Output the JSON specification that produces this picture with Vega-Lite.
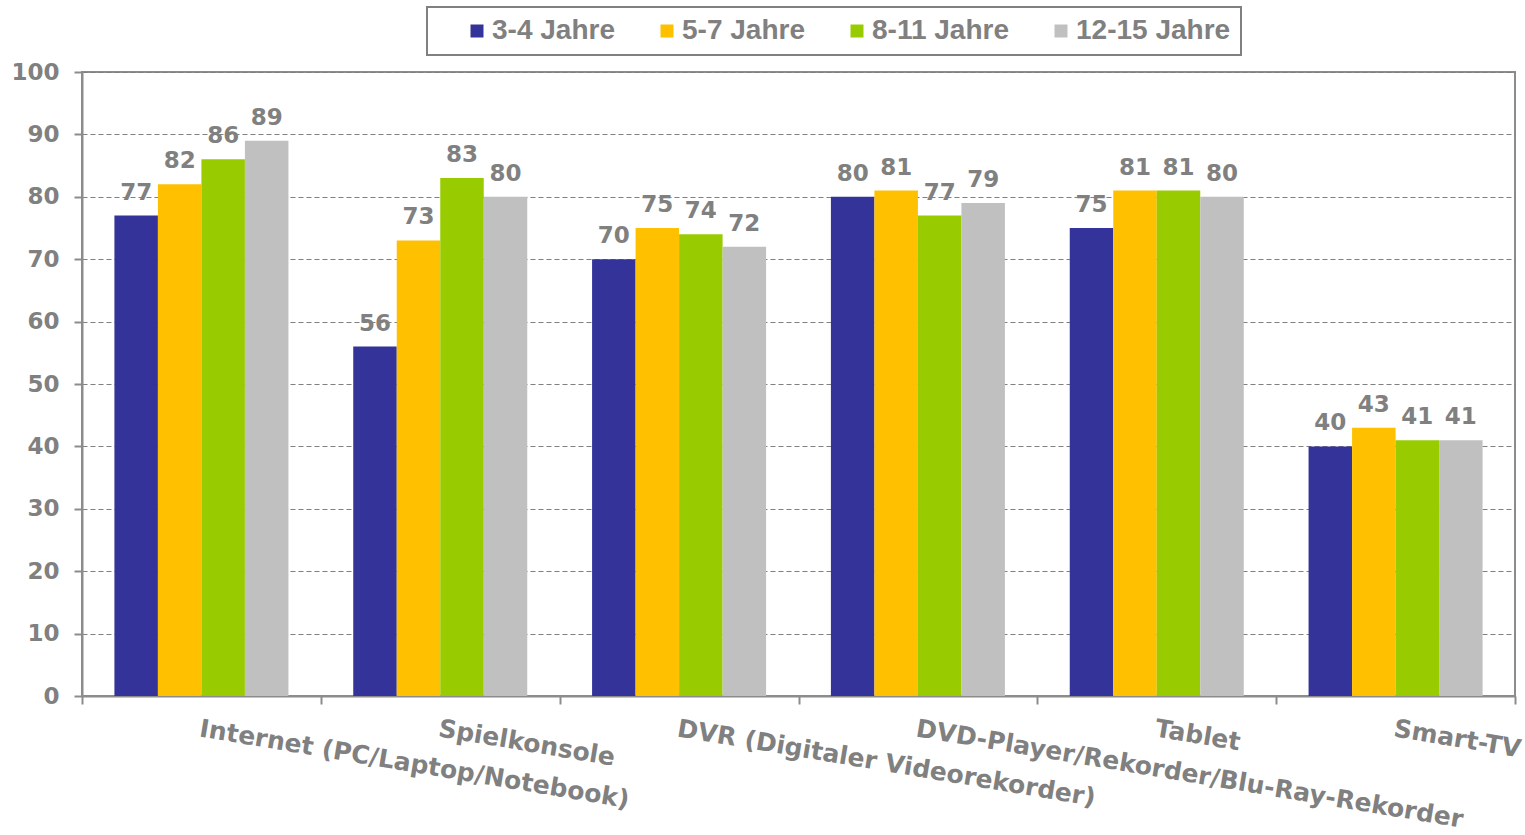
{
  "$schema": "https://vega.github.io/schema/vega-lite/v6.json",
  "width": 1433,
  "height": 624,
  "autosize": "none",
  "padding": {"left": 82, "top": 72, "right": 10, "bottom": 139},
  "background": "white",
  "config": {
    "view": {"stroke": "#8c8c8c", "strokeWidth": 2},
    "font": "DejaVu Sans"
  },
  "data": {
    "values": [
      {"Gerät": "Internet (PC/Laptop/Notebook)", "Alter": "3-4 Jahre", "Wert": 77},
      {"Gerät": "Internet (PC/Laptop/Notebook)", "Alter": "5-7 Jahre", "Wert": 82},
      {"Gerät": "Internet (PC/Laptop/Notebook)", "Alter": "8-11 Jahre", "Wert": 86},
      {"Gerät": "Internet (PC/Laptop/Notebook)", "Alter": "12-15 Jahre", "Wert": 89},
      {"Gerät": "Spielkonsole", "Alter": "3-4 Jahre", "Wert": 56},
      {"Gerät": "Spielkonsole", "Alter": "5-7 Jahre", "Wert": 73},
      {"Gerät": "Spielkonsole", "Alter": "8-11 Jahre", "Wert": 83},
      {"Gerät": "Spielkonsole", "Alter": "12-15 Jahre", "Wert": 80},
      {"Gerät": "DVR (Digitaler Videorekorder)", "Alter": "3-4 Jahre", "Wert": 70},
      {"Gerät": "DVR (Digitaler Videorekorder)", "Alter": "5-7 Jahre", "Wert": 75},
      {"Gerät": "DVR (Digitaler Videorekorder)", "Alter": "8-11 Jahre", "Wert": 74},
      {"Gerät": "DVR (Digitaler Videorekorder)", "Alter": "12-15 Jahre", "Wert": 72},
      {"Gerät": "DVD-Player/Rekorder/Blu-Ray-Rekorder", "Alter": "3-4 Jahre", "Wert": 80},
      {"Gerät": "DVD-Player/Rekorder/Blu-Ray-Rekorder", "Alter": "5-7 Jahre", "Wert": 81},
      {"Gerät": "DVD-Player/Rekorder/Blu-Ray-Rekorder", "Alter": "8-11 Jahre", "Wert": 77},
      {"Gerät": "DVD-Player/Rekorder/Blu-Ray-Rekorder", "Alter": "12-15 Jahre", "Wert": 79},
      {"Gerät": "Tablet", "Alter": "3-4 Jahre", "Wert": 75},
      {"Gerät": "Tablet", "Alter": "5-7 Jahre", "Wert": 81},
      {"Gerät": "Tablet", "Alter": "8-11 Jahre", "Wert": 81},
      {"Gerät": "Tablet", "Alter": "12-15 Jahre", "Wert": 80},
      {"Gerät": "Smart-TV", "Alter": "3-4 Jahre", "Wert": 40},
      {"Gerät": "Smart-TV", "Alter": "5-7 Jahre", "Wert": 43},
      {"Gerät": "Smart-TV", "Alter": "8-11 Jahre", "Wert": 41},
      {"Gerät": "Smart-TV", "Alter": "12-15 Jahre", "Wert": 41}
    ]
  },
  "encoding": {
    "x": {
      "field": "Gerät",
      "type": "nominal",
      "sort": null,
      "title": null,
      "scale": {"paddingInner": 0, "paddingOuter": 0},
      "axis": {
        "tickBand": "extent",
        "labelAngle": 9.5,
        "labelAlign": "left",
        "labelBaseline": "top",
        "labelPadding": 12,
        "labelFont": "DejaVu Sans",
        "labelFontWeight": "bold",
        "labelFontSize": 25,
        "labelColor": "#808080",
        "labelLimit": 800,
        "labelOverlap": false,
        "tickSize": 8,
        "tickColor": "#8c8c8c",
        "tickWidth": 2,
        "domainColor": "#8c8c8c",
        "domainWidth": 2,
        "grid": false
      }
    },
    "xOffset": {
      "field": "Alter",
      "sort": ["3-4 Jahre", "5-7 Jahre", "8-11 Jahre", "12-15 Jahre"],
      "scale": {"paddingInner": 0, "paddingOuter": 0.745}
    },
    "y": {
      "field": "Wert",
      "type": "quantitative",
      "title": null,
      "scale": {"domain": [0, 100], "nice": false},
      "axis": {
        "values": [0, 10, 20, 30, 40, 50, 60, 70, 80, 90, 100],
        "labelFont": "DejaVu Sans",
        "labelFontWeight": "bold",
        "labelFontSize": 23,
        "labelColor": "#808080",
        "labelPadding": 15,
        "tickSize": 8,
        "tickColor": "#8c8c8c",
        "tickWidth": 2,
        "domainColor": "#8c8c8c",
        "domainWidth": 2,
        "grid": true,
        "gridColor": "#808080",
        "gridDash": [5, 3],
        "gridWidth": 1
      }
    }
  },
  "layer": [
    {
      "mark": {"type": "bar"},
      "encoding": {
        "color": {
          "field": "Alter",
          "type": "nominal",
          "sort": ["3-4 Jahre", "5-7 Jahre", "8-11 Jahre", "12-15 Jahre"],
          "scale": {
            "domain": ["3-4 Jahre", "5-7 Jahre", "8-11 Jahre", "12-15 Jahre"],
            "range": ["#333399", "#FFC000", "#99CC00", "#C0C0C0"]
          },
          "legend": {
            "title": "\u00a0",
            "titleOrient": "left",
            "titlePadding": 26,
            "titleFontSize": 10,
            "orient": "none",
            "direction": "horizontal",
            "columns": 4,
            "legendX": 345,
            "legendY": -65,
            "padding": 10,
            "strokeColor": "#808080",
            "symbolType": "square",
            "symbolSize": 169,
            "symbolStrokeWidth": 0,
            "labelFont": "Liberation Sans",
            "labelFontWeight": "bold",
            "labelFontSize": 28,
            "labelColor": "#808080",
            "labelOffset": 1,
            "columnPadding": 38,
            "encode": {"legend": {"update": {"strokeWidth": {"value": 2}}}}
          }
        }
      }
    },
    {
      "mark": {
        "type": "text",
        "baseline": "alphabetic",
        "dy": -16,
        "font": "DejaVu Sans",
        "fontWeight": "bold",
        "fontSize": 23,
        "color": "#808080"
      },
      "encoding": {
        "text": {"field": "Wert", "type": "quantitative"}
      }
    }
  ]
}
